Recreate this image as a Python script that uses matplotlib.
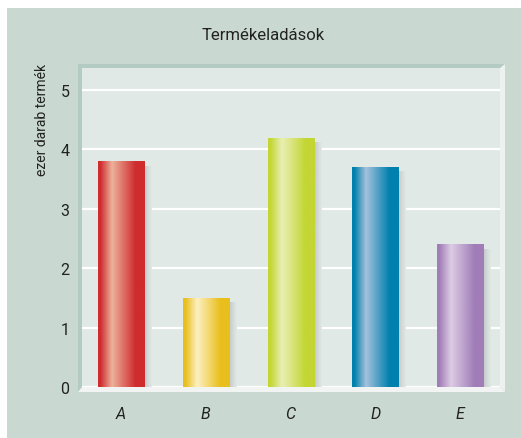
import numpy as np
import matplotlib
matplotlib.use("Agg")
from matplotlib import pyplot as plt
from matplotlib.colors import LinearSegmentedColormap
from matplotlib.patches import Polygon

categories = ["A", "B", "C", "D", "E"]
values = [3.8, 1.5, 4.2, 3.7, 2.4]
edge_colors = ["#cf2c2e", "#e8bf1c", "#c3d633", "#0080ad", "#a17db8"]
light_colors = ["#ecb29c", "#fdf0c2", "#e9efb4", "#a4c2dc", "#ddcce4"]
y_ticks = [0, 1, 2, 3, 4, 5]

plt.rcParams["font.family"] = ["Roboto", "DejaVu Sans"]

W, H = 521, 439
fig = plt.figure(figsize=(W / 100, H / 100), dpi=100)
fig.patch.set_facecolor("white")


def px(x, y):
    return (x / W, 1 - y / H)


def poly(points, color):
    fig.add_artist(Polygon([px(*p) for p in points], closed=True, transform=fig.transFigure,
                           facecolor=color, edgecolor="none", zorder=-1))


# panel background and 3d frame
poly([(7, 9), (W, 9), (W, H), (7, H)], "#c9d8d1")
poly([(78, 65), (505, 65), (505, 393), (78, 393)], "#b4cbc3")
poly([(500, 69), (505, 65), (505, 393), (500, 388)], "#edf1ef")
poly([(78, 393), (82, 388), (500, 388), (505, 393)], "#f1f4f2")

ax = fig.add_axes([82 / W, 1 - 388 / H, 418 / W, 319 / H])
ax.set_facecolor("#e0e9e6")
for s in ax.spines.values():
    s.set_visible(False)

x = np.arange(len(categories))
width = 0.543
bars = ax.bar(x, values, width=width, color="none", zorder=3)

grad = np.linspace(0, 1, 256).reshape(1, -1)
shadow_cmap = LinearSegmentedColormap.from_list("sh", ["#c2c7c6", "#d4dad8", "#e0e9e6"])
for bar, v, c1, c2 in zip(bars, values, edge_colors, light_colors):
    x0 = bar.get_x()
    x1 = x0 + bar.get_width()
    # shadow at the right
    ax.imshow(grad, cmap=shadow_cmap, extent=(x1, x1 + 0.085, 0, v - 0.08),
              aspect="auto", zorder=2)
    cmap = LinearSegmentedColormap.from_list(
        "b", [(0, c1), (0.05, c1), (0.3, c2), (0.8, c1), (1, c1)])
    im = ax.imshow(grad, cmap=cmap, extent=(x0, x1, 0, v), aspect="auto", zorder=3)
    im.set_clip_path(bar)

ax.set_xlim(-0.46, 4.47)
ax.set_ylim(0, 5.37)
ax.set_yticks(y_ticks)
ax.set_xticks(x)
ax.set_xticklabels(categories, fontstyle="italic")
ax.yaxis.grid(True, color="white", linewidth=1.6, zorder=1)
ax.set_axisbelow(True)
ax.tick_params(axis="both", length=0, labelsize=11.5, colors="#222222")
ax.tick_params(axis="y", pad=9)
ax.tick_params(axis="x", pad=14)

fig.text(263 / W, 1 - 36 / H, "Termékeladások", ha="center", va="center",
         fontsize=12, color="#222222")
fig.text(42 / W, 1 - 120 / H, "ezer darab termék", ha="center", va="center",
         rotation=90, fontsize=10, color="#222222")

fig.savefig("out.png", dpi=100)
